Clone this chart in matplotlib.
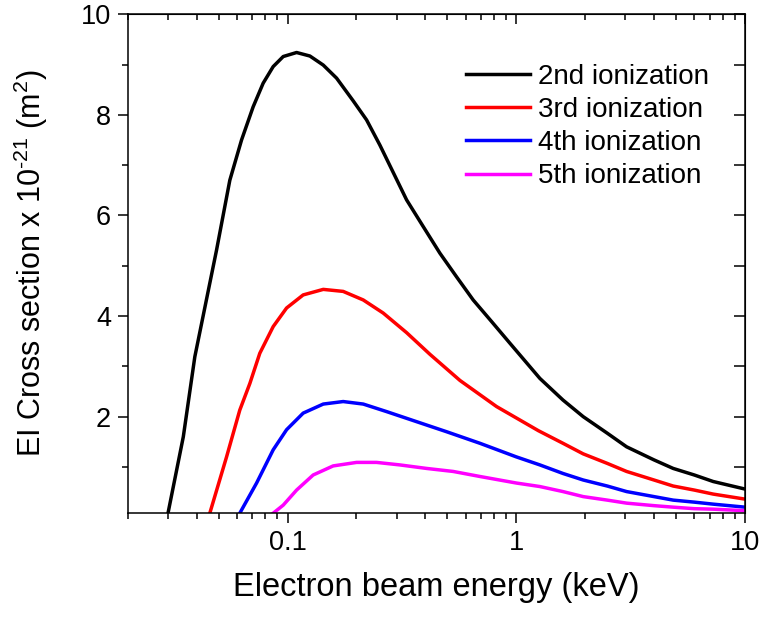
import numpy as np
import matplotlib
matplotlib.use("Agg")
import matplotlib.pyplot as plt
from matplotlib.ticker import MultipleLocator, NullFormatter, LogLocator

plt.rcParams['font.family'] = ['Liberation Sans', 'DejaVu Sans']
plt.rcParams['mathtext.fontset'] = 'custom'
plt.rcParams['mathtext.rm'] = 'Liberation Sans'
plt.rcParams['mathtext.it'] = 'Liberation Sans'

# data (energy in keV, cross section x 1e-21 m^2)
e_2nd = [0.0300, 0.0350, 0.0393, 0.0489, 0.0559, 0.0629, 0.0707, 0.0782, 0.0865, 0.0957,
         0.1095, 0.1252, 0.1432, 0.1638, 0.1935, 0.2215, 0.2532, 0.3314, 0.3917, 0.4634,
         0.548, 0.6478, 0.780, 0.9376, 1.268, 1.6, 1.961, 2.5, 3.036, 4.0,
         4.853, 6.0, 7.26, 10.0]
s_2nd = [0.08, 1.60, 3.19, 5.31, 6.70, 7.50, 8.16, 8.63, 8.96, 9.16,
         9.24, 9.17, 8.99, 8.73, 8.28, 7.90, 7.40, 6.31, 5.78, 5.25,
         4.78, 4.32, 3.89, 3.46, 2.76, 2.33, 2.00, 1.67, 1.40, 1.14,
         0.97, 0.84, 0.71, 0.56]

e_3rd = [0.0457, 0.0541, 0.0618, 0.0684, 0.0756, 0.0865, 0.0990, 0.1170, 0.1432, 0.1750,
         0.2142, 0.2618, 0.3314, 0.419, 0.567, 0.820, 1.25, 1.6, 1.961, 2.5,
         3.036, 4.0, 4.853, 6.0, 7.26, 10.0]
s_3rd = [0.08, 1.20, 2.13, 2.66, 3.26, 3.79, 4.16, 4.42, 4.53, 4.49,
         4.32, 4.06, 3.67, 3.24, 2.72, 2.20, 1.72, 1.47, 1.26, 1.07,
         0.91, 0.74, 0.62, 0.54, 0.46, 0.36]

e_4th = [0.0618, 0.0732, 0.0865, 0.0990, 0.1170, 0.1432, 0.1750, 0.2142, 0.2710, 0.3664,
         0.4956, 0.6935, 1.0, 1.268, 1.6, 1.961, 2.5, 3.036, 4.0, 4.853,
         6.0, 7.26, 10.0]
s_4th = [0.08, 0.68, 1.34, 1.74, 2.07, 2.25, 2.30, 2.25, 2.10, 1.90,
         1.70, 1.47, 1.20, 1.04, 0.87, 0.74, 0.62, 0.51, 0.41, 0.34,
         0.30, 0.26, 0.20]

e_5th = [0.0865, 0.0957, 0.1095, 0.1294, 0.1582, 0.2003, 0.2449, 0.3097, 0.4053, 0.5298,
         0.6935, 1.0, 1.268, 1.6, 1.961, 2.5, 3.036, 4.0, 4.853, 6.0,
         7.26, 10.0]
s_5th = [0.08, 0.24, 0.54, 0.84, 1.02, 1.09, 1.09, 1.04, 0.97, 0.91,
         0.81, 0.68, 0.61, 0.51, 0.41, 0.34, 0.28, 0.23, 0.20, 0.17,
         0.16, 0.13]

series = [(e_2nd, s_2nd, 'black', '2nd ionization'),
          (e_3rd, s_3rd, '#ff0000', '3rd ionization'),
          (e_4th, s_4th, '#0000ff', '4th ionization'),
          (e_5th, s_5th, '#ff00ff', '5th ionization')]

fig = plt.figure(figsize=(7.63, 6.21), dpi=100)
ax = fig.add_axes([0.1674, 0.174, 0.809, 0.803])

for e, s, c, lab in series:
    ax.plot(e, s, color=c, lw=2.5, label=lab, solid_joinstyle='round')

ax.set_xscale('log')
ax.set_xlim(0.02, 10)
ax.set_ylim(0.085, 10)

ax.set_xticks([0.1, 1, 10], ['0.1', '1', '10'])
ax.xaxis.set_minor_locator(LogLocator(base=10, subs=np.arange(2, 10)))
ax.xaxis.set_minor_formatter(NullFormatter())
ax.set_yticks([2, 4, 6, 8, 10])
ax.yaxis.set_minor_locator(MultipleLocator(1))

ax.tick_params(which='major', direction='out', length=7, width=1.1, labelsize=19.5, pad=5)
ax.tick_params(which='minor', direction='out', length=4, width=1.1)
for sp in ax.spines.values():
    sp.set_linewidth(1.1)

# mirrored axes with ticks pointing inward
top = ax.secondary_xaxis('top')
top.set_xticks([0.1, 1, 10])
top.xaxis.set_minor_locator(LogLocator(base=10, subs=np.arange(2, 10)))
top.tick_params(which='both', direction='in', labeltop=False, width=1.1)
top.tick_params(which='major', length=7)
top.tick_params(which='minor', length=4)
top.xaxis.set_minor_formatter(NullFormatter())
right = ax.secondary_yaxis('right')
right.set_yticks([2, 4, 6, 8, 10])
right.yaxis.set_minor_locator(MultipleLocator(1))
right.tick_params(which='both', direction='in', labelright=False, width=1.1, length=8)

ax.set_xlabel('Electron beam energy (keV)', fontsize=23.5, labelpad=12)
ax.set_ylabel(r'EI Cross section x 10$^{\text{-21}}$ (m$^2$)', fontsize=22, labelpad=22)

ax.legend(loc='upper right', frameon=False, fontsize=20, handlelength=2.3,
          handletextpad=0.3, labelspacing=0.26, borderaxespad=0.3,
          bbox_to_anchor=(0.973, 0.94))

fig.savefig('out.png', dpi=100)
